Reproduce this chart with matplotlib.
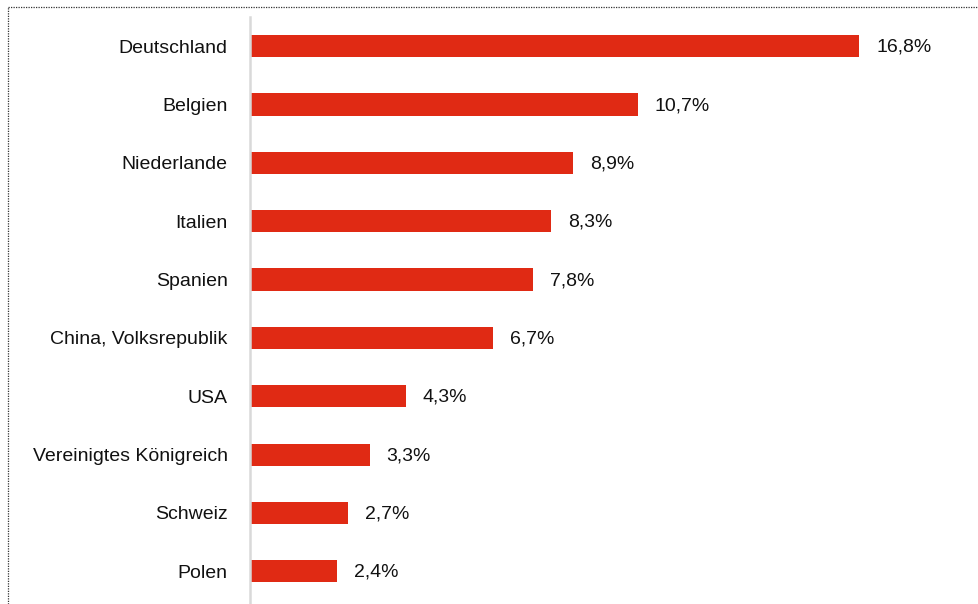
import matplotlib
matplotlib.use("Agg")
import matplotlib.pyplot as plt
from matplotlib.lines import Line2D

countries = ["Deutschland", "Belgien", "Niederlande", "Italien", "Spanien",
             "China, Volksrepublik", "USA", "Vereinigtes Königreich", "Schweiz", "Polen"]
shares = [16.8, 10.7, 8.9, 8.3, 7.8, 6.7, 4.3, 3.3, 2.7, 2.4]

plt.rcParams['font.family'] = ['Liberation Sans Narrow', 'Liberation Sans', 'DejaVu Sans']

fig = plt.figure(figsize=(9.79, 6.04), dpi=100)
ax = fig.add_axes([250 / 979, 0, 720 / 979, 587 / 604])

ypos = list(range(len(countries)))
ax.barh(ypos, shares, height=0.38, color="#E02A14", zorder=2)
ax.set_xlim(0, 720 / 36.25)
ax.set_ylim(9.56, -0.5)

ax.set_yticks(ypos)
ax.set_yticklabels(countries, fontsize=14, color="#111111")
ax.tick_params(axis="y", length=0, pad=16)
ax.set_xticks([])
for s in ["top", "right", "bottom"]:
    ax.spines[s].set_visible(False)
ax.spines["left"].set_color("#d9d9d9")
ax.spines["left"].set_linewidth(1.8)

for y, v in zip(ypos, shares):
    ax.text(v + 0.47, y + 0.02, f"{v:.1f}%".replace(".", ","), va="center", ha="left",
            fontsize=14, color="#111111")

# dotted frame lines (top and left)
fig.add_artist(Line2D([8 / 979, 1], [1 - 7 / 604, 1 - 7 / 604], transform=fig.transFigure,
                      color="#333333", linestyle=(0, (1, 1)), linewidth=0.9))
fig.add_artist(Line2D([8 / 979, 8 / 979], [0, 1 - 7 / 604], transform=fig.transFigure,
                      color="#333333", linestyle=(0, (1, 1)), linewidth=0.9))

fig.savefig("out.png", dpi=100)
